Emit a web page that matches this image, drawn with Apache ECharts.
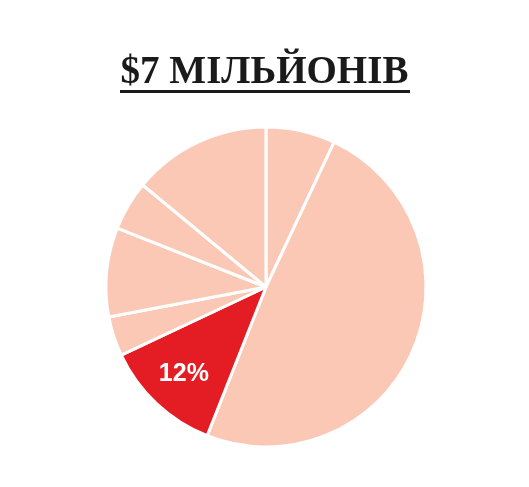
<!DOCTYPE html>
<html>
<head>
<meta charset="utf-8">
<script src="https://cdn.jsdelivr.net/npm/echarts@6/dist/echarts.min.js"></script>
<style>html,body{margin:0;padding:0;background:#fff;}#c{width:529px;height:487px;}</style>
</head>
<body>
<div id="c"></div>
<script>
const titleText = '$7 МІЛЬЙОНІВ';
const categories = ['A', 'B', 'C', 'D', 'E', 'F', 'G'];
const values = [7, 49, 12, 4, 9, 5, 14];
const highlightIndex = 2;
const highlightLabel = '12%';

const light = '#fac8b4';
const red = '#e41c24';

const chart = echarts.init(document.getElementById('c'));
const pieData = categories.map((c, i) => ({
  name: c,
  value: values[i],
  itemStyle: { color: i === highlightIndex ? red : light }
}));
const labelData = categories.map((c, i) => ({
  name: c,
  value: values[i],
  label: { show: i === highlightIndex, formatter: highlightLabel }
}));

chart.setOption({
  animation: false,
  backgroundColor: '#fff',
  title: {
    text: titleText,
    left: 'center',
    top: 48,
    textStyle: {
      fontFamily: 'Liberation Serif',
      fontWeight: 'bold',
      fontSize: 39,
      color: '#1a1a1a'
    }
  },
  graphic: [{
    type: 'line',
    shape: { x1: 120, y1: 91.5, x2: 410, y2: 91.5 },
    style: { stroke: '#1a1a1a', lineWidth: 3 }
  }],
  series: [{
    type: 'pie',
    center: [266, 287],
    radius: 160,
    startAngle: 90,
    clockwise: true,
    silent: true,
    label: { show: false },
    labelLine: { show: false },
    itemStyle: { borderColor: '#fff', borderWidth: 3 },
    data: pieData
  }, {
    type: 'pie',
    center: [266, 287],
    radius: [74, 160],
    startAngle: 90,
    clockwise: true,
    silent: true,
    itemStyle: { color: 'rgba(0,0,0,0)', borderWidth: 0 },
    label: {
      position: 'inside',
      color: '#fff',
      fontFamily: 'Liberation Sans',
      fontWeight: 'bold',
      fontSize: 25
    },
    labelLine: { show: false },
    data: labelData
  }]
});
</script>
</body>
</html>
